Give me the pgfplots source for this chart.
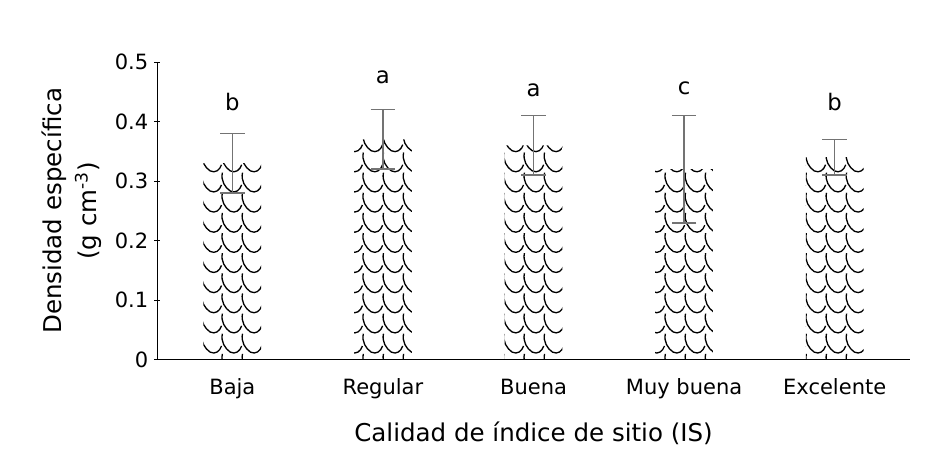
\documentclass[border=0pt]{standalone}
\usepackage{fontspec}
\setmainfont{DejaVu Sans}
\usepackage{pgfplots}
\pgfplotsset{compat=1.18}
\usetikzlibrary{patterns}

% scale-like fill, roughly as in the original
\pgfdeclarepatternformonly{scales}{\pgfqpoint{-1pt}{-1pt}}{\pgfqpoint{12.5pt}{12.5pt}}{\pgfqpoint{11.5pt}{11.5pt}}{%
  \pgfsetlinewidth{0.75pt}
  \pgfpathmoveto{\pgfqpoint{0.5pt}{11.5pt}}
  \pgfpathcurveto{\pgfqpoint{-0.5pt}{7pt}}{\pgfqpoint{2pt}{3pt}}{\pgfqpoint{5pt}{1pt}}
  \pgfpathcurveto{\pgfqpoint{8pt}{-0.5pt}}{\pgfqpoint{10.5pt}{1.5pt}}{\pgfqpoint{11.5pt}{4.5pt}}
  \pgfusepath{stroke}
}

\begin{document}
\begin{tikzpicture}
\begin{axis}[
  scale only axis, width=430pt, height=170pt,
  xmin=-0.5, xmax=4.5, ymin=0, ymax=0.5,
  ytick={0,0.1,0.2,0.3,0.4,0.5},
  yticklabel style={/pgf/number format/.cd, fixed, precision=1, assume math mode=true},
  xtick={0,1,2,3,4},
  xticklabels={Baja, Regular, Buena, Muy buena, Excelente},
  xtick style={draw=none},
  ytick style={black, thin},
  tick align=outside, major tick length=3pt,
  axis x line=bottom, axis y line=left,
  axis line style={-, thin},
  x axis line style={-},
  xticklabel style={yshift=-6pt},
  tick label style={font=\fontsize{12}{14}\selectfont},
  xlabel={Calidad de índice de sitio (IS)},
  xlabel style={font=\fontsize{14}{16}\selectfont, yshift=-6pt},
  ylabel={Densidad específica\\(g cm\textsuperscript{-3})},
  ylabel style={font=\fontsize{14}{20}\selectfont, align=center, yshift=0.5pt},
]
\addplot[ybar, bar width=33pt, draw=none, pattern=scales, pattern color=black,
  error bars/.cd, y dir=both, y explicit,
  error bar style={gray!90!black, line width=0.9pt},
  error mark options={rotate=90, mark size=7pt, gray!90!black, line width=0.9pt}]
coordinates {
  (0,0.33) +- (0,0.05)
  (1,0.37) +- (0,0.05)
  (2,0.36) +- (0,0.05)
  (3,0.32) +- (0,0.09)
  (4,0.34) +- (0,0.03)
};
\addplot[draw=none, mark=none, nodes near coords, point meta=explicit symbolic,
  nodes near coords align=center,
  every node near coord/.append style={font=\fontsize{13}{14}\selectfont}]
coordinates {
  (0,0.432) [b]
  (1,0.475) [a]
  (2,0.452) [a]
  (3,0.455) [c]
  (4,0.432) [b]
};
\end{axis}
\pgfresetboundingbox
\path ([xshift=-89.7pt,yshift=-65.7pt]current axis.south west)
  rectangle ([xshift=20pt,yshift=35.4pt]current axis.north east);
\end{tikzpicture}
\end{document}
